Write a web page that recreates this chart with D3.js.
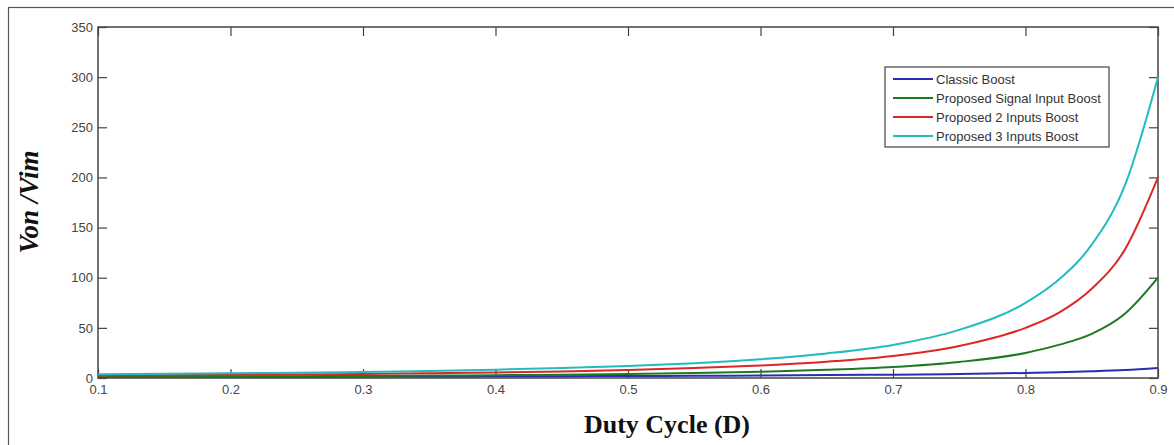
<!DOCTYPE html>
<html lang="en">
<head>
<meta charset="UTF-8">
<script src="https://d3js.org/d3.v7.min.js"></script>
<style>
   body { margin: 0; background: #fff; }
   svg { display: block; }
   .tick text { font-family: Arial, "Liberation Sans", sans-serif; font-size: 13px; fill: #444; }
</style>
</head>
<body>
<div id="graphe"></div>
<script>
// duty cycle values
const dutyCycle = [0.10, 0.15, 0.20, 0.25, 0.30, 0.35, 0.40, 0.45, 0.50, 0.55, 0.60, 0.65, 0.70, 0.75, 0.80, 0.825, 0.85, 0.875, 0.90];
const classicBoost = [1.1, 1.2, 1.25, 1.3, 1.4, 1.5, 1.7, 1.8, 2, 2.2, 2.5, 2.9, 3.3, 4, 5, 5.7, 6.7, 8, 10];
const singleInput = [1.2, 1.4, 1.6, 1.8, 2, 2.4, 2.8, 3.3, 4, 4.9, 6.3, 8.2, 11, 16, 25, 33, 44, 64, 100];
const twoInputs = [2.5, 2.8, 3.1, 3.6, 4.1, 4.7, 5.6, 6.6, 8, 9.9, 12.5, 16.3, 22, 32, 50, 65, 89, 128, 200];
const threeInputs = [3.7, 4.2, 4.7, 5.3, 6.1, 7.1, 8.3, 9.9, 12, 14.8, 18.8, 24.5, 33, 48, 75, 98, 133, 192, 300];

const seriesNames = ["Classic Boost", "Proposed Signal Input Boost", "Proposed 2 Inputs Boost", "Proposed 3 Inputs Boost"];
const seriesValues = [classicBoost, singleInput, twoInputs, threeInputs];
const couleurs = ["#2a2fb0", "#1d7a22", "#d92828", "#22bcbc"];
const xTicks = [0.1, 0.2, 0.3, 0.4, 0.5, 0.6, 0.7, 0.8, 0.9];
const yTicks = [0, 50, 100, 150, 200, 250, 300, 350];

const largeur = 1174, hauteur = 445;
const marge = {gauche: 98, haut: 27, droite: 1158, bas: 378};

const svg = d3.select("#graphe").append("svg")
   .attr("width", largeur)
   .attr("height", hauteur);

// cadre exterieur
svg.append("rect")
   .attr("x", 8.5).attr("y", 7.5)
   .attr("width", 1200).attr("height", 600)
   .attr("fill", "none").attr("stroke", "#555").attr("stroke-width", 1.2);

const x = d3.scaleLinear().domain([0.1, 0.9]).range([marge.gauche, marge.droite]);
const y = d3.scaleLinear().domain([0, 350]).range([marge.bas, marge.haut]);

const tick = 9;
function styleAxe(g) {
   g.select(".domain").remove();
   g.selectAll(".tick line").attr("stroke", "#444").attr("stroke-width", 1.2);
}

// axe bas
svg.append("g")
   .attr("transform", `translate(0,${marge.bas})`)
   .call(d3.axisBottom(x).tickValues(xTicks).tickFormat(d3.format(".1f")).tickSizeInner(-tick).tickSizeOuter(0).tickPadding(7))
   .call(styleAxe);
// axe haut (ticks seulement)
svg.append("g")
   .attr("transform", `translate(0,${marge.haut})`)
   .call(d3.axisTop(x).tickValues(xTicks).tickFormat("").tickSizeInner(-tick).tickSizeOuter(0))
   .call(styleAxe);
// axe gauche
svg.append("g")
   .attr("transform", `translate(${marge.gauche},0)`)
   .call(d3.axisLeft(y).tickValues(yTicks).tickSizeInner(-tick).tickSizeOuter(0).tickPadding(5))
   .call(styleAxe);
// axe droit
svg.append("g")
   .attr("transform", `translate(${marge.droite},0)`)
   .call(d3.axisRight(y).tickValues(yTicks).tickFormat("").tickSizeInner(-tick).tickSizeOuter(0))
   .call(styleAxe);

// cadre du graphe
svg.append("rect")
   .attr("x", marge.gauche).attr("y", marge.haut)
   .attr("width", marge.droite - marge.gauche).attr("height", marge.bas - marge.haut)
   .attr("fill", "none").attr("stroke", "#444").attr("stroke-width", 1.5);

const ligne = d3.line()
   .x((d, i) => x(dutyCycle[i]))
   .y(d => y(d))
   .curve(d3.curveMonotoneX);

seriesValues.forEach((vals, k) => {
   svg.append("path")
      .attr("d", ligne(vals))
      .attr("fill", "none")
      .attr("stroke", couleurs[k])
      .attr("stroke-width", 2);
});

// legende
const leg = svg.append("g").attr("transform", "translate(885,67)");
leg.append("rect")
   .attr("width", 224).attr("height", 80)
   .attr("fill", "#fff").attr("stroke", "#444").attr("stroke-width", 1.2);
seriesNames.forEach((nom, k) => {
   const yy = 12 + k * 19;
   leg.append("line")
      .attr("x1", 8).attr("x2", 48).attr("y1", yy).attr("y2", yy)
      .attr("stroke", couleurs[k]).attr("stroke-width", 2);
   leg.append("text")
      .attr("x", 51).attr("y", yy + 4.5)
      .attr("font-family", "Arial, 'Liberation Sans', sans-serif")
      .attr("font-size", 13)
      .attr("fill", "#333")
      .text(nom);
});

// titres des axes
svg.append("text")
   .attr("x", 667).attr("y", 433)
   .attr("text-anchor", "middle")
   .attr("font-family", "'Liberation Serif', 'DejaVu Serif', serif")
   .attr("font-weight", "bold")
   .attr("font-size", 26)
   .attr("fill", "#111")
   .text("Duty Cycle (D)");

svg.append("text")
   .attr("transform", "translate(38,202) rotate(-90)")
   .attr("text-anchor", "middle")
   .attr("font-family", "'Liberation Serif', 'DejaVu Serif', serif")
   .attr("font-weight", "bold")
   .attr("font-style", "italic")
   .attr("font-size", 27)
   .attr("fill", "#111")
   .text("Von /Vim");
</script>
</body>
</html>
